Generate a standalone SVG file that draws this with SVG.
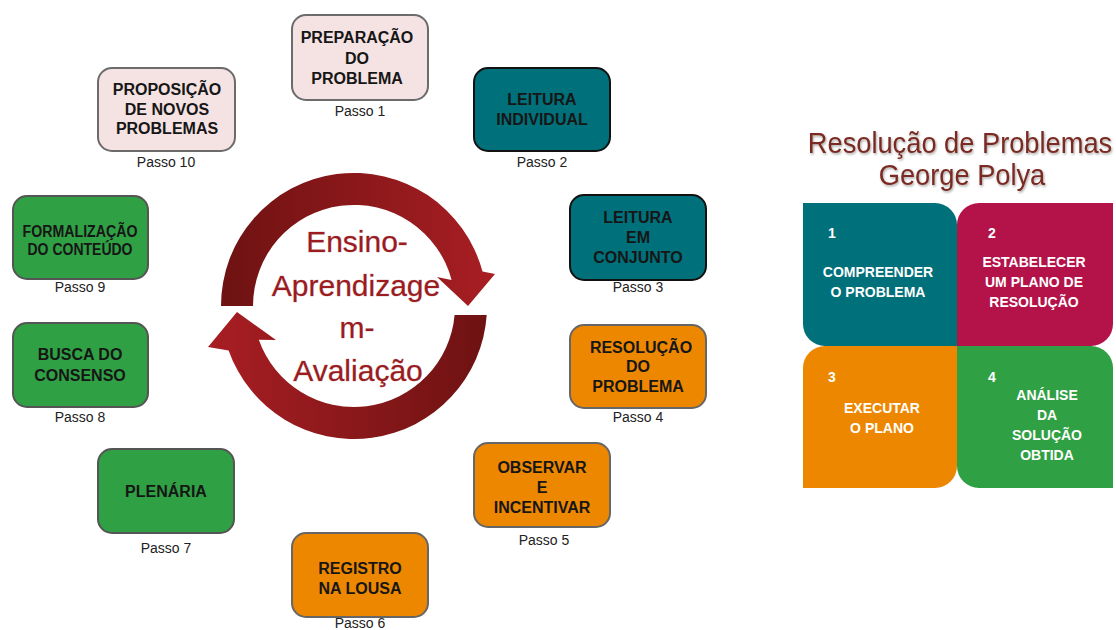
<svg xmlns="http://www.w3.org/2000/svg" width="1116" height="630" viewBox="0 0 1116 630">
<style>
.box{stroke-width:2}
.pink{fill:#F5E2E2;stroke:#6b6b6b}
.teal{fill:#00707A;stroke:#111}
.orange{fill:#EE8700;stroke:#666}
.green{fill:#2FA043;stroke:#555}
.bt{font-family:"Liberation Sans",Arial,sans-serif;font-weight:bold;font-size:16px;fill:#161616;text-anchor:middle}
.ps{font-family:"Liberation Sans",Arial,sans-serif;font-size:14px;fill:#222;text-anchor:middle}
.ct{font-family:"Liberation Sans",Arial,sans-serif;font-size:30px;fill:#9B1B1F;stroke:#c9a5a5;stroke-width:0.6;paint-order:stroke;text-anchor:middle}
.ti{font-family:"Liberation Sans",Arial,sans-serif;font-size:29px;fill:#7A2B22;text-anchor:middle}
.qt{font-family:"Liberation Sans",Arial,sans-serif;font-weight:bold;font-size:14px;fill:#fff;text-anchor:middle}
.qn{font-family:"Liberation Sans",Arial,sans-serif;font-weight:bold;font-size:14px;fill:#fff}
</style>
<defs>
<linearGradient id="gTop" x1="220" y1="0" x2="495" y2="0" gradientUnits="userSpaceOnUse">
<stop offset="0" stop-color="#6E1212"/><stop offset="1" stop-color="#A81E23"/>
</linearGradient>
<linearGradient id="gBot" x1="208" y1="0" x2="488" y2="0" gradientUnits="userSpaceOnUse">
<stop offset="0" stop-color="#A81E23"/><stop offset="1" stop-color="#6E1212"/>
</linearGradient>
<filter id="sh" x="-10%" y="-30%" width="120%" height="160%">
<feDropShadow dx="1" dy="1.5" stdDeviation="1" flood-color="#000" flood-opacity="0.35"/>
</filter>
</defs>

<g id="connectors">
<path id="arrow-top" fill="url(#gTop)" d="M221 306 A133 133 0 0 1 482.5 271.6 L495 274 L468 306 L437 277 L451.6 279.9 A101 101 0 0 0 253 306 Z"/>
<path id="arrow-bottom" fill="url(#gBot)" d="M486.7 315 A133 133 0 0 1 228.6 350.4 L208 347 L237 312 L276 340 L258.8 339.7 A101 101 0 0 0 454.6 315 Z"/>
</g>

<g id="center-label">
<text class="ct" x="357" y="252">Ensino-</text>
<text class="ct" x="356" y="296">Aprendizage</text>
<text class="ct" x="357" y="338">m-</text>
<text class="ct" x="358" y="381">Avaliação</text>
</g>

<g id="passo1">
<rect class="box pink" x="292" y="15" width="136" height="85" rx="14"/>
<text class="bt" x="357" y="43">PREPARAÇÃO</text>
<text class="bt" x="357" y="64">DO</text>
<text class="bt" x="357" y="84">PROBLEMA</text>
<text class="ps" x="360" y="116">Passo 1</text>
</g>
<g id="passo2">
<rect class="box teal" x="474" y="68" width="136" height="83" rx="14"/>
<text class="bt" x="542" y="105">LEITURA</text>
<text class="bt" x="542" y="125">INDIVIDUAL</text>
<text class="ps" x="542" y="167">Passo 2</text>
</g>
<g id="passo3">
<rect class="box teal" x="570" y="195" width="136" height="85" rx="14"/>
<text class="bt" x="638" y="223">LEITURA</text>
<text class="bt" x="638" y="243">EM</text>
<text class="bt" x="638" y="263">CONJUNTO</text>
<text class="ps" x="638" y="292">Passo 3</text>
</g>
<g id="passo4">
<rect class="box orange" x="570" y="325" width="136" height="83" rx="14"/>
<text class="bt" x="641" y="353">RESOLUÇÃO</text>
<text class="bt" x="638" y="372">DO</text>
<text class="bt" x="638" y="392">PROBLEMA</text>
<text class="ps" x="638" y="422">Passo 4</text>
</g>
<g id="passo5">
<rect class="box orange" x="474" y="443" width="136" height="84" rx="14"/>
<text class="bt" x="542" y="473">OBSERVAR</text>
<text class="bt" x="542" y="493">E</text>
<text class="bt" x="542" y="513">INCENTIVAR</text>
<text class="ps" x="544" y="545">Passo 5</text>
</g>
<g id="passo6">
<rect class="box orange" x="292" y="533" width="136" height="84" rx="14"/>
<text class="bt" x="360" y="574">REGISTRO</text>
<text class="bt" x="360" y="594">NA LOUSA</text>
<text class="ps" x="360" y="628">Passo 6</text>
</g>
<g id="passo7">
<rect class="box green" x="98" y="449" width="136" height="84" rx="14"/>
<text class="bt" x="166" y="497">PLENÁRIA</text>
<text class="ps" x="166" y="553">Passo 7</text>
</g>
<g id="passo8">
<rect class="box green" x="13" y="323" width="135" height="84" rx="14"/>
<text class="bt" x="80" y="360">BUSCA DO</text>
<text class="bt" x="80" y="381">CONSENSO</text>
<text class="ps" x="80" y="422">Passo 8</text>
</g>
<g id="passo9">
<rect class="box green" x="13" y="196" width="135" height="83" rx="14"/>
<text class="bt" x="80" y="237" textLength="115" lengthAdjust="spacingAndGlyphs">FORMALIZAÇÃO</text>
<text class="bt" x="80" y="255" textLength="105" lengthAdjust="spacingAndGlyphs">DO CONTEÚDO</text>
<text class="ps" x="80" y="292">Passo 9</text>
</g>
<g id="passo10">
<rect class="box pink" x="98" y="68" width="137" height="83" rx="14"/>
<text class="bt" x="167" y="95">PROPOSIÇÃO</text>
<text class="bt" x="167" y="115">DE NOVOS</text>
<text class="bt" x="167" y="134">PROBLEMAS</text>
<text class="ps" x="166" y="167">Passo 10</text>
</g>

<g id="title" filter="url(#sh)">
<text class="ti" transform="scale(0.94 1)" x="1021.3" y="153">Resolução de Problemas</text>
<text class="ti" transform="scale(0.94 1)" x="1023.4" y="185">George Polya</text>
</g>

<g id="polya1">
<path fill="#00707A" d="M803 203 H935 A22 22 0 0 1 957 225 V346 H825 A22 22 0 0 1 803 324 Z"/>
<text class="qn" x="828" y="238">1</text>
<text class="qt" x="878" y="277">COMPREENDER</text>
<text class="qt" x="878" y="297">O PROBLEMA</text>
</g>
<g id="polya2">
<path fill="#B4134A" d="M979 203 H1113 V324 A22 22 0 0 1 1091 346 H957 V225 A22 22 0 0 1 979 203 Z"/>
<text class="qn" x="988" y="238">2</text>
<text class="qt" x="1034" y="267">ESTABELECER</text>
<text class="qt" x="1034" y="287">UM PLANO DE</text>
<text class="qt" x="1034" y="307">RESOLUÇÃO</text>
</g>
<g id="polya3">
<path fill="#EE8700" d="M825 346 H957 V466 A22 22 0 0 1 935 488 H803 V368 A22 22 0 0 1 825 346 Z"/>
<text class="qn" x="828" y="382">3</text>
<text class="qt" x="882" y="413">EXECUTAR</text>
<text class="qt" x="882" y="433">O PLANO</text>
</g>
<g id="polya4">
<path fill="#2FA043" d="M957 346 H1091 A22 22 0 0 1 1113 368 V488 H979 A22 22 0 0 1 957 466 Z"/>
<text class="qn" x="988" y="382">4</text>
<text class="qt" x="1047" y="400">ANÁLISE</text>
<text class="qt" x="1047" y="420">DA</text>
<text class="qt" x="1047" y="440">SOLUÇÃO</text>
<text class="qt" x="1047" y="460">OBTIDA</text>
</g>
</svg>
